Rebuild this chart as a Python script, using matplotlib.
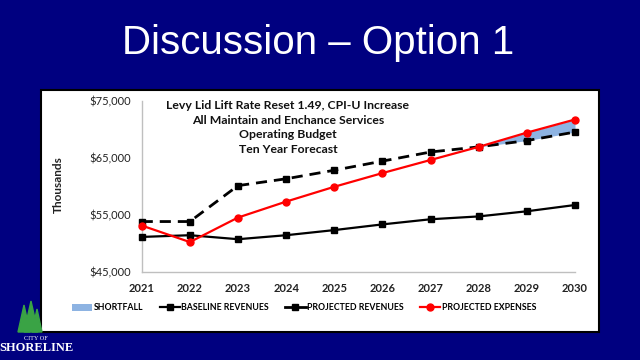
import matplotlib.pyplot as plt
import numpy as np
from matplotlib.patches import Rectangle, Polygon
from matplotlib.lines import Line2D
from matplotlib.patches import Patch

years = [2021, 2022, 2023, 2024, 2025, 2026, 2027, 2028, 2029, 2030]
baseline = [51100, 51400, 50700, 51400, 52300, 53300, 54200, 54700, 55600, 56700]
projected_rev = [53800, 53800, 60100, 61300, 62800, 64400, 66000, 66900, 68000, 69500]
projected_exp = [53100, 50200, 54500, 57300, 59900, 62300, 64600, 66900, 69400, 71700]
ytick_vals = [45000, 55000, 65000, 75000]

navy = '#000080'
fill_blue = '#8db3e2'
chart_font = 'Lato'

fig = plt.figure(figsize=(6.4, 3.6), dpi=100, facecolor=navy)

# white chart box (behind the axes)
fig.patches.append(Rectangle((40.5 / 640, 1 - 332 / 360), 558 / 640, 242 / 360,
                             transform=fig.transFigure, facecolor='white',
                             edgecolor='black', linewidth=1.5, zorder=-5))

fig.text(0.497, 1 - 54 / 360, 'Discussion \u2013 Option 1', color='white',
         fontsize=29, family='Liberation Sans', ha='center', va='baseline')

ax = fig.add_axes([141.7 / 640, 88.3 / 360, 433.3 / 640, 171 / 360])
ax.set_facecolor('none')
ax.set_zorder(2)

x = np.array(years)
rev = np.array(projected_rev)
exp = np.array(projected_exp)
ax.fill_between(x, rev, exp, where=exp >= rev, interpolate=True,
                color=fill_blue, linewidth=0, zorder=1)
ax.plot(x, baseline, color='black', lw=1.6, marker='s', ms=5, zorder=3)
ax.plot(x, projected_rev, color='black', lw=2, ls=(0, (4, 2.5)), marker='s', ms=5, zorder=3)
ax.plot(x, projected_exp, color='red', lw=1.6, marker='o', ms=5, zorder=4)

ax.set_xlim(2021, 2030)
ax.set_ylim(45000, 75000)
ax.set_xticks(years)
ax.set_xticklabels([str(y) for y in years], family=chart_font, fontweight='bold', fontsize=8)
ax.set_yticks(ytick_vals)
ax.set_yticklabels(['${:,}'.format(v) for v in ytick_vals], family=chart_font, fontsize=8)
ax.tick_params(length=0, pad=8, colors='#222222')
for s in ['top', 'right']:
    ax.spines[s].set_visible(False)
for s in ['left', 'bottom']:
    ax.spines[s].set_color('#bfbfbf')
    ax.spines[s].set_linewidth(1)
for c in ax.get_children():
    if isinstance(c, Line2D):
        c.set_clip_on(False)

fig.text(58 / 640, 1 - 185 / 360, 'Thousands', rotation=90, ha='center', va='center',
         family=chart_font, fontweight='bold', fontsize=8.5, color='#222222')

fig.text(288 / 640, 1 - 100 / 360,
         'Levy Lid Lift Rate Reset 1.49, CPI-U Increase\nAll Maintain and Enchance Services\n'
         'Operating Budget\nTen Year Forecast',
         ha='center', va='top', multialignment='center', family=chart_font,
         fontweight='bold', fontsize=8.8, linespacing=1.4, color='#111111')

handles = [
    Patch(facecolor=fill_blue, edgecolor='none'),
    Line2D([], [], color='black', lw=1.6, marker='s', ms=5),
    Line2D([], [], color='black', lw=2, marker='s', ms=5),
    Line2D([], [], color='red', lw=1.6, marker='o', ms=5),
]
labels = ['SHORTFALL', 'BASELINE REVENUES', 'PROJECTED REVENUES', 'PROJECTED EXPENSES']
fig.legend(handles, labels, loc='center', bbox_to_anchor=(304 / 640, 1 - 308 / 360),
           ncol=4, frameon=False, handlelength=2.3, handletextpad=0.15, columnspacing=1.9,
           prop={'family': chart_font, 'weight': 'bold', 'size': 6.3})

# city logo
for cx, top, w in [(24, 305, 6), (31, 301, 7), (37, 309, 5)]:
    fig.patches.append(Polygon([(cx / 640, 1 - top / 360), ((cx - w) / 640, 1 - 332 / 360),
                                ((cx + w) / 640, 1 - 332 / 360)],
                               closed=True, transform=fig.transFigure, color='#3aa345', zorder=1))
fig.text(36 / 640, 1 - 338 / 360, 'CITY OF', color='white', fontsize=4.5,
         family='Liberation Serif', ha='center', va='center')
fig.text(36 / 640, 1 - 348 / 360, 'SHORELINE', color='white', fontsize=9,
         family='Liberation Serif', fontweight='bold', ha='center', va='center')

fig.savefig('out.png', dpi=100, facecolor=navy)
